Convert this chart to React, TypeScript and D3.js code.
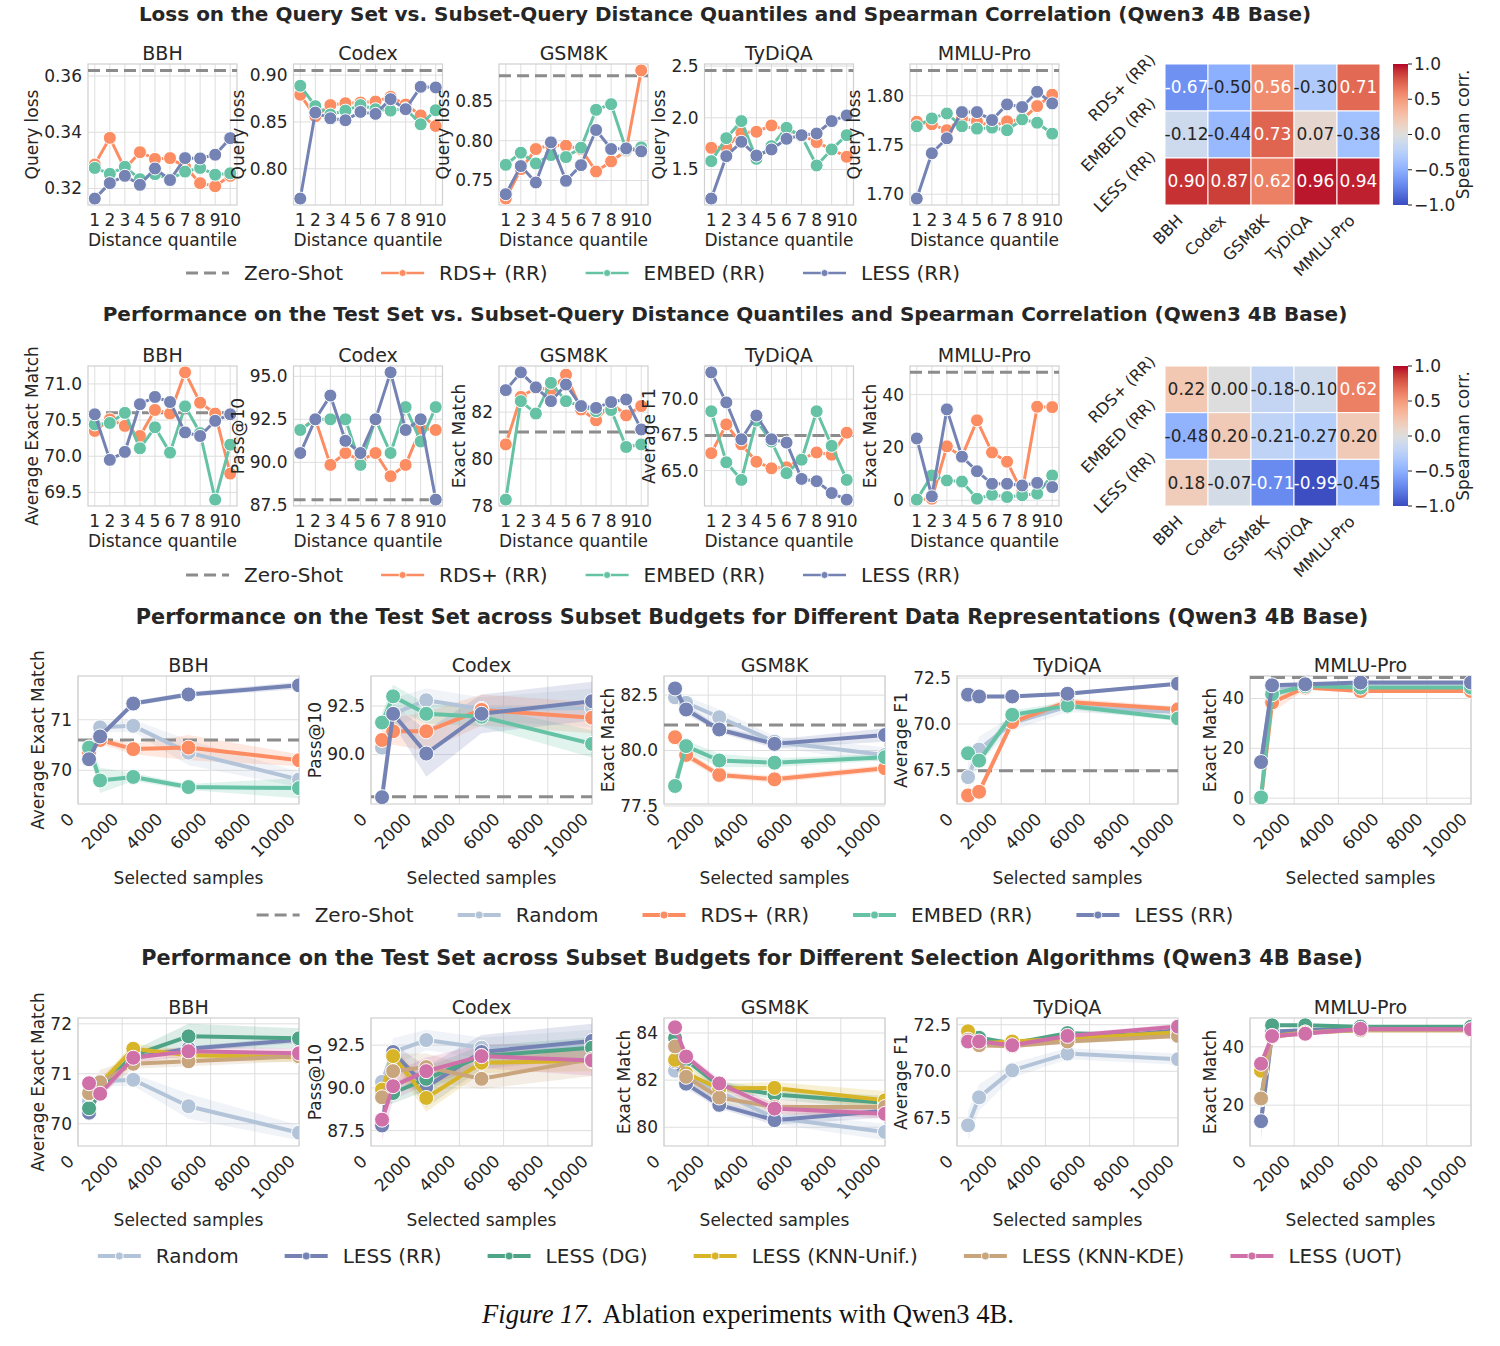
import * as d3 from 'd3';
import { useEffect, useRef } from 'react';

const benchmarks = ['BBH', 'Codex', 'GSM8K', 'TyDiQA', 'MMLU-Pro'];
const methods = ['RDS+ (RR)', 'EMBED (RR)', 'LESS (RR)'];
const quantiles = [1, 2, 3, 4, 5, 6, 7, 8, 9, 10];
const budgets = [500, 1000, 2500, 5000, 10000];
const budgetTicks = [0, 2000, 4000, 6000, 8000, 10000];

const metricLabels = ['Average Exact Match', 'Pass@10', 'Exact Match', 'Average F1', 'Exact Match'];

// ---- query loss vs distance quantile ----
const lossZeroShot = [0.362, 0.905, 0.8815, 2.458, 1.8257];
const lossRds = [
  [0.3285, 0.338, 0.327, 0.3329, 0.3305, 0.3308, 0.3277, 0.3219, 0.3208, 0.3245],
  [0.879, 0.856, 0.868, 0.87, 0.8707, 0.8718, 0.8768, 0.8686, 0.857, 0.8457],
  [0.7273, 0.7643, 0.7895, 0.7945, 0.7937, 0.7895, 0.7613, 0.774, 0.7874, 0.8882],
  [1.71, 1.716, 1.855, 1.865, 1.926, 1.881, 1.832, 1.765, 1.694, 1.623],
  [1.7736, 1.771, 1.765, 1.777, 1.774, 1.769, 1.774, 1.776, 1.7895, 1.801],
];
const lossEmbed = [
  [0.3273, 0.3252, 0.3277, 0.3233, 0.3251, 0.3233, 0.326, 0.3273, 0.3249, 0.3254],
  [0.8886, 0.8668, 0.8579, 0.8621, 0.8679, 0.8636, 0.8621, 0.8643, 0.8475, 0.8625],
  [0.7697, 0.7849, 0.7714, 0.7819, 0.7794, 0.7912, 0.8387, 0.8458, 0.7887, 0.7916],
  [1.581, 1.803, 1.968, 1.603, 1.726, 1.903, 1.823, 1.539, 1.694, 1.832],
  [1.769, 1.777, 1.782, 1.769, 1.7666, 1.7676, 1.765, 1.776, 1.7726, 1.7615],
];
const lossLess = [
  [0.3164, 0.3219, 0.3245, 0.3213, 0.3271, 0.323, 0.3308, 0.3307, 0.332, 0.3379],
  [0.7682, 0.86, 0.8539, 0.8518, 0.8607, 0.8586, 0.8743, 0.8636, 0.8875, 0.8868],
  [0.7328, 0.7681, 0.7475, 0.7979, 0.7496, 0.7693, 0.8134, 0.7895, 0.7903, 0.7866],
  [1.219, 1.629, 1.768, 1.635, 1.694, 1.797, 1.832, 1.848, 1.968, 2.023],
  [1.6956, 1.7416, 1.7568, 1.7834, 1.7834, 1.7753, 1.7912, 1.7885, 1.804, 1.7922],
];
const lossTickLabels = [
  ['0.32', '0.34', '0.36'],
  ['0.80', '0.85', '0.90'],
  ['0.75', '0.80', '0.85'],
  ['1.5', '2.0', '2.5'],
  ['1.70', '1.75', '1.80'],
];
const lossCorr = [
  [-0.67, -0.5, 0.56, -0.3, 0.71],
  [-0.12, -0.44, 0.73, 0.07, -0.38],
  [0.9, 0.87, 0.62, 0.96, 0.94],
];

// ---- test performance vs distance quantile ----
const testZeroShot = [70.6, 87.83, 81.15, 67.45, 48.4];
const testRds = [
  [70.35, 70.51, 70.42, 70.28, 70.64, 70.59, 71.16, 70.74, 70.59, 69.76],
  [91.92, 92.5, 89.85, 90.54, 90.1, 90.54, 89.19, 89.85, 91.96, 91.88],
  [80.62, 82.65, 83.04, 82.96, 83.6, 82.11, 81.65, 82.4, 81.86, 82.26],
  [66.22, 68.23, 66.84, 65.62, 65.16, 65.23, 65.81, 66.27, 66.11, 67.65],
  [0.25, 0.6, 20.4, 16.5, 30.25, 18.1, 14.6, 3, 35.4, 35.25],
];
const testEmbed = [
  [70.44, 70.46, 70.6, 70.11, 70.4, 70.05, 70.69, 70.32, 69.4, 70.16],
  [91.88, 92.5, 92.5, 92.5, 89.85, 92.5, 90.54, 93.21, 91.21, 93.21],
  [78.26, 82.47, 81.94, 83.25, 82.47, 82.26, 82.04, 82.09, 80.51, 80.62],
  [69.15, 65.58, 64.35, 68.5, 67.03, 64.82, 65.76, 69.15, 66.73, 64.35],
  [0.25, 9.4, 7.5, 7.1, 0.6, 2.1, 1.25, 1.9, 2.5, 9.4],
];
const testLess = [
  [70.58, 69.95, 70.06, 70.72, 70.82, 70.75, 70.33, 70.28, 70.49, 70.58],
  [90.54, 92.5, 93.88, 91.25, 90.54, 92.5, 95.23, 91.88, 92.5, 87.83],
  [82.94, 83.7, 83.06, 82.47, 83.18, 82.26, 82.18, 82.43, 82.54, 81.26],
  [71.87, 69.77, 67.19, 68.85, 67.19, 66.96, 64.42, 64.26, 63.43, 62.97],
  [23.4, 1.5, 34.4, 16.5, 11, 6.25, 6.25, 5.6, 6.6, 5],
];
const testTickLabels = [
  ['69.5', '70.0', '70.5', '71.0'],
  ['87.5', '90.0', '92.5', '95.0'],
  ['78', '80', '82'],
  ['65.0', '67.5', '70.0'],
  ['0', '20', '40'],
];
const testCorr = [
  [0.22, 0.0, -0.18, -0.1, 0.62],
  [-0.48, 0.2, -0.21, -0.27, 0.2],
  [0.18, -0.07, -0.71, -0.99, -0.45],
];

// ---- test performance vs subset budget (mean and CI half-width) ----
const budgetZeroShot = [70.6, 87.83, 81.15, 67.45, 48.4];
const budgetRandom = [
  [70.45, 70.85, 70.88, 70.35, 69.82],
  [90.35, 92.1, 92.8, 92.35, 92.4],
  [82.4, 82.15, 81.5, 80.4, 79.8],
  [67.1, 68.6, 70.05, 70.95, 70.65],
  [14.5, 44, 45.5, 46, 46],
];
const budgetRandomSpread = [
  [0.1, 0.1, 0.12, 0.25, 0.15],
  [0.3, 0.8, 0.6, 0.6, 1.0],
  [0.3, 0.3, 0.35, 0.25, 0.35],
  [0.8, 0.7, 0.4, 0.3, 0.3],
  [2, 2, 0.5, 0.5, 0.5],
];
const budgetRds = [
  [70.35, 70.6, 70.42, 70.45, 70.2],
  [90.75, 91.2, 91.2, 92.3, 91.9],
  [80.6, 79.8, 78.9, 78.7, 79.2],
  [66.1, 66.3, 70.1, 71.2, 70.8],
  [0.3, 38.4, 44.4, 43.0, 43.0],
];
const budgetRdsSpread = [
  [0.1, 0.08, 0.1, 0.25, 0.12],
  [0.6, 0.7, 1.0, 0.8, 0.8],
  [0.15, 0.2, 0.15, 0.15, 0.15],
  [0.15, 0.2, 0.2, 0.2, 0.15],
  [0.3, 4, 0.8, 0.8, 0.8],
];
const budgetEmbed = [
  [70.45, 69.8, 69.87, 69.67, 69.65],
  [91.65, 93.0, 92.1, 91.95, 90.55],
  [78.4, 80.2, 79.55, 79.45, 79.7],
  [68.4, 68.0, 70.5, 71.0, 70.3],
  [0.3, 41.7, 45.0, 44.4, 44.4],
];
const budgetEmbedSpread = [
  [0.1, 0.25, 0.08, 0.06, 0.2],
  [0.5, 0.6, 0.5, 0.5, 0.7],
  [0.55, 0.25, 0.3, 0.2, 0.15],
  [0.2, 0.3, 0.25, 0.2, 0.15],
  [0.3, 2, 0.5, 0.5, 0.5],
];
const budgetLess = [
  [70.22, 70.67, 71.32, 71.5, 71.68],
  [87.8, 92.1, 90.05, 92.1, 92.75],
  [82.8, 81.85, 80.95, 80.3, 80.7],
  [71.6, 71.5, 71.5, 71.65, 72.2],
  [14.5, 45.3, 45.7, 46.4, 46.4],
];
const budgetLessSpread = [
  [0.05, 0.05, 0.05, 0.05, 0.07],
  [0.05, 0.5, 1.2, 1.0, 1.0],
  [0.3, 0.2, 0.15, 0.2, 0.3],
  [0.1, 0.1, 0.1, 0.1, 0.1],
  [6.5, 0.5, 0.3, 0.3, 0.3],
];
const budgetTickLabels = [
  ['70', '71'],
  ['90.0', '92.5'],
  ['77.5', '80.0', '82.5'],
  ['67.5', '70.0', '72.5'],
  ['0', '20', '40'],
];

// ---- selection algorithm variants ----
const selectDg = [
  [70.31, 70.7, 71.37, 71.75, 71.71],
  [89.7, 89.7, 90.53, 91.86, 92.35],
  [83.79, 82.86, 81.76, 81.39, 81.04],
  [71.65, 71.8, 71.5, 72.05, 71.9],
  [22, 47.4, 47.4, 46.9, 46.9],
];
const selectDgSpread = [
  [0.1, 0.1, 0.1, 0.25, 0.2],
  [0.8, 0.6, 0.7, 0.6, 0.6],
  [0.2, 0.2, 0.2, 0.2, 0.3],
  [0.12, 0.12, 0.12, 0.12, 0.12],
  [2, 0.5, 0.5, 0.3, 0.3],
];
const selectUnif = [
  [70.6, 70.8, 71.5, 71.37, 71.33],
  [89.9, 91.86, 89.41, 91.47, 91.57],
  [82.86, 82.29, 81.64, 81.67, 81.14],
  [72.15, 71.5, 71.6, 71.75, 72.1],
  [31.8, 43.7, 44.9, 45.7, 45.7],
];
const selectUnifSpread = [
  [0.1, 0.1, 0.1, 0.1, 0.1],
  [0.6, 0.6, 0.8, 0.6, 0.6],
  [0.3, 0.3, 0.2, 0.25, 0.4],
  [0.12, 0.12, 0.12, 0.12, 0.12],
  [2, 1, 0.5, 0.3, 0.3],
];
const selectKde = [
  [70.61, 70.83, 71.2, 71.25, 71.35],
  [89.45, 90.98, 91.22, 90.53, 91.7],
  [83.43, 82.14, 81.26, 80.86, 80.86],
  [71.7, 71.4, 71.35, 71.6, 71.9],
  [22.3, 43.4, 44.9, 45.7, 45.7],
];
const selectKdeSpread = [
  [0.1, 0.25, 0.1, 0.1, 0.1],
  [0.5, 1.0, 0.8, 0.6, 1.0],
  [0.2, 0.2, 0.2, 0.3, 0.4],
  [0.12, 0.12, 0.12, 0.12, 0.12],
  [3, 1, 0.5, 0.3, 0.3],
];
const selectUot = [
  [70.81, 70.6, 71.32, 71.45, 71.41],
  [88.14, 90.1, 90.98, 91.86, 91.61],
  [84.24, 83.0, 81.86, 80.79, 80.57],
  [71.6, 71.6, 71.4, 71.9, 72.4],
  [34.2, 43.7, 44.5, 46.2, 46.0],
];
const selectUotSpread = [
  [0.1, 0.1, 0.1, 0.1, 0.1],
  [1.2, 0.8, 0.8, 0.7, 0.9],
  [0.15, 0.15, 0.2, 0.2, 0.2],
  [0.12, 0.12, 0.12, 0.12, 0.15],
  [2, 1, 0.5, 0.3, 0.3],
];
const selectTickLabels = [
  ['70', '71', '72'],
  ['87.5', '90.0', '92.5'],
  ['80', '82', '84'],
  ['67.5', '70.0', '72.5'],
  ['20', '40'],
];

const FONT = "'DejaVu Sans', sans-serif";
const INK = '#262626';
const GRID = '#dedede';
const SPINE = '#d0d0d0';
const TICK = 17;

const colors = {
  zero: '#8c8c8c',
  random: '#b3c4d9',
  rds: '#fc8d62',
  embed: '#66c2a5',
  less: '#7483b4',
  dg: '#4fa386',
  unif: '#d8b528',
  kde: '#c9a57d',
  uot: '#d070a9',
};

// matplotlib coolwarm, sampled
const coolwarmStops = [
  [59, 76, 192], [77, 104, 215], [98, 130, 234], [119, 154, 247], [141, 176, 254],
  [163, 194, 255], [184, 208, 249], [204, 217, 238], [221, 221, 221], [236, 211, 197],
  [245, 196, 173], [247, 177, 148], [244, 154, 123], [236, 127, 99], [222, 96, 77],
  [203, 62, 56], [180, 4, 38],
];
const coolwarm = d3
  .scaleLinear<string>()
  .domain(coolwarmStops.map((_, i) => -1 + (2 * i) / (coolwarmStops.length - 1)))
  .range(coolwarmStops.map(([r, g, b]) => `rgb(${r},${g},${b})`))
  .interpolate(d3.interpolateRgb)
  .clamp(true);

// seaborn picks dark or white annotation text by luminance
function annotColor(fill: string) {
  const c = d3.rgb(fill);
  const lin = (v: number) => {
    const s = v / 255;
    return s <= 0.03928 ? s / 12.92 : Math.pow((s + 0.055) / 1.055, 2.4);
  };
  const lum = 0.2126 * lin(c.r) + 0.7152 * lin(c.g) + 0.0722 * lin(c.b);
  return lum > 0.408 ? INK : '#ffffff';
}

function makeMeasure(svg: any) {
  const t = svg.append('text').attr('visibility', 'hidden').style('font-family', FONT);
  return (s: string, size: number, weight = 'normal') => {
    t.attr('font-size', size).attr('font-weight', weight).text(s);
    return (t.node() as SVGTextElement).getComputedTextLength();
  };
}

// 45deg label; 'top' puts the box's top-right corner at (ax, ay), 'center' its right-middle
function rotatedLabel(g: any, measure: any, text: string, ax: number, ay: number, size: number, mode: 'top' | 'center') {
  const L = measure(text, size);
  const bw = (L + size * 1.17) * Math.SQRT1_2;
  const cx = ax - bw / 2;
  const cy = mode === 'top' ? ay + bw / 2 : ay;
  g.append('text')
    .attr('transform', `translate(${cx},${cy}) rotate(-45)`)
    .attr('text-anchor', 'middle')
    .attr('dy', '0.35em')
    .attr('font-size', size)
    .attr('fill', INK)
    .text(text);
}

interface LineSeries {
  color: string;
  values: number[];
  spread?: number[];
}

interface PanelSpec {
  id: string;
  left: number;
  top: number;
  width: number;
  height: number;
  xDomain: [number, number];
  xs: number[];
  xGrid: number[];
  rotateX: boolean;
  yTickText: string[];
  title: string;
  xTitle: string;
  yTitle: string;
  series: LineSeries[];
  zeroShot?: number;
  zeroScales: boolean;
  lineWidth: number;
  radius: number;
  dash: string;
}

function drawPanel(root: any, measure: any, p: PanelSpec) {
  const g = root.append('g');
  const bottom = p.top + p.height;
  const x = d3.scaleLinear().domain(p.xDomain).range([p.left, p.left + p.width]);

  const span: number[] = [];
  p.series.forEach((s) =>
    s.values.forEach((v, i) => {
      const e = s.spread ? s.spread[i] : 0;
      span.push(v - e, v + e);
    })
  );
  if (p.zeroShot !== undefined && p.zeroScales) span.push(p.zeroShot);
  const lo = d3.min(span) as number;
  const hi = d3.max(span) as number;
  const m = (hi - lo) * 0.05;
  const y = d3.scaleLinear().domain([lo - m, hi + m]).range([bottom, p.top]);

  const clipId = `clip-${p.id}`;
  g.append('clipPath')
    .attr('id', clipId)
    .append('rect')
    .attr('x', p.left)
    .attr('y', p.top)
    .attr('width', p.width)
    .attr('height', p.height);

  // grid
  g.append('g')
    .selectAll('line')
    .data(p.xGrid)
    .join('line')
    .attr('x1', (d: number) => x(d))
    .attr('x2', (d: number) => x(d))
    .attr('y1', p.top)
    .attr('y2', bottom)
    .attr('stroke', GRID)
    .attr('stroke-width', 1);
  g.append('g')
    .selectAll('line')
    .data(p.yTickText.map(Number))
    .join('line')
    .attr('x1', p.left)
    .attr('x2', p.left + p.width)
    .attr('y1', (d: number) => y(d))
    .attr('y2', (d: number) => y(d))
    .attr('stroke', GRID)
    .attr('stroke-width', 1);

  g.append('rect')
    .attr('x', p.left)
    .attr('y', p.top)
    .attr('width', p.width)
    .attr('height', p.height)
    .attr('fill', 'none')
    .attr('stroke', SPINE)
    .attr('stroke-width', 1.2);

  const plot = g.append('g').attr('clip-path', `url(#${clipId})`);

  const pts = (s: LineSeries) =>
    p.xs.map((xv, i) => ({ x: xv, v: s.values[i], e: s.spread ? s.spread[i] : 0 }));

  // confidence bands underneath everything else
  p.series.forEach((s) => {
    if (!s.spread) return;
    const area = d3
      .area<{ x: number; v: number; e: number }>()
      .x((d) => x(d.x))
      .y0((d) => y(d.v - d.e))
      .y1((d) => y(d.v + d.e));
    plot.append('path').datum(pts(s)).attr('d', area).attr('fill', s.color).attr('fill-opacity', 0.2);
  });

  if (p.zeroShot !== undefined) {
    plot
      .append('line')
      .attr('x1', p.left)
      .attr('x2', p.left + p.width)
      .attr('y1', y(p.zeroShot))
      .attr('y2', y(p.zeroShot))
      .attr('stroke', colors.zero)
      .attr('stroke-width', 3)
      .attr('stroke-dasharray', p.dash);
  }

  p.series.forEach((s) => {
    const line = d3
      .line<{ x: number; v: number }>()
      .x((d) => x(d.x))
      .y((d) => y(d.v));
    plot
      .append('path')
      .datum(pts(s))
      .attr('d', line)
      .attr('fill', 'none')
      .attr('stroke', s.color)
      .attr('stroke-width', p.lineWidth)
      .attr('stroke-linejoin', 'round');
    plot
      .append('g')
      .selectAll('circle')
      .data(pts(s))
      .join('circle')
      .attr('cx', (d: any) => x(d.x))
      .attr('cy', (d: any) => y(d.v))
      .attr('r', p.radius)
      .attr('fill', s.color)
      .attr('stroke', '#ffffff')
      .attr('stroke-width', 1);
  });

  // y ticks + label
  g.append('g')
    .selectAll('text')
    .data(p.yTickText)
    .join('text')
    .attr('x', p.left - 6)
    .attr('y', (d: string) => y(+d))
    .attr('dy', '0.35em')
    .attr('text-anchor', 'end')
    .attr('font-size', TICK)
    .attr('fill', INK)
    .text((d: string) => d);
  const tw = d3.max(p.yTickText, (d) => measure(d, TICK) as number) as number;
  g.append('text')
    .attr('transform', `translate(${p.left - 6 - tw - 6},${p.top + p.height / 2}) rotate(-90)`)
    .attr('text-anchor', 'middle')
    .attr('font-size', 17)
    .attr('fill', INK)
    .text(p.yTitle);

  // x ticks + label
  if (p.rotateX) {
    p.xGrid.forEach((t) => rotatedLabel(g, measure, String(t), x(t), bottom + 5, TICK, 'top'));
  } else {
    g.append('g')
      .selectAll('text')
      .data(p.xGrid)
      .join('text')
      .attr('x', (d: number) => x(d))
      .attr('y', bottom + 21)
      .attr('text-anchor', 'middle')
      .attr('font-size', TICK)
      .attr('fill', INK)
      .text((d: number) => String(d));
  }
  g.append('text')
    .attr('x', p.left + p.width / 2)
    .attr('y', bottom + (p.rotateX ? 80 : 41))
    .attr('text-anchor', 'middle')
    .attr('font-size', 17)
    .attr('fill', INK)
    .text(p.xTitle);

  g.append('text')
    .attr('x', p.left + p.width / 2)
    .attr('y', p.top - 4)
    .attr('text-anchor', 'middle')
    .attr('font-size', 19)
    .attr('fill', INK)
    .text(p.title);
}

function drawHeatmap(root: any, measure: any, id: string, top: number, height: number, corr: number[][]) {
  const g = root.append('g');
  const left = 1165;
  const width = 215;
  const x = d3.scaleBand().domain(benchmarks).range([left, left + width]);
  const y = d3.scaleBand().domain(methods).range([top, top + height]);

  corr.forEach((row, r) =>
    row.forEach((v, c) => {
      const fill = coolwarm(v);
      const cx = x(benchmarks[c]) as number;
      const cy = y(methods[r]) as number;
      g.append('rect')
        .attr('x', cx)
        .attr('y', cy)
        .attr('width', x.bandwidth())
        .attr('height', y.bandwidth())
        .attr('fill', fill)
        .attr('stroke', '#ffffff')
        .attr('stroke-width', 1);
      g.append('text')
        .attr('x', cx + x.bandwidth() / 2)
        .attr('y', cy + y.bandwidth() / 2)
        .attr('dy', '0.35em')
        .attr('text-anchor', 'middle')
        .attr('font-size', 17)
        .attr('fill', annotColor(fill))
        .text(v.toFixed(2));
    })
  );

  methods.forEach((mth) =>
    rotatedLabel(g, measure, mth, left - 6, (y(mth) as number) + y.bandwidth() / 2, 16, 'center')
  );
  benchmarks.forEach((b) =>
    rotatedLabel(g, measure, b, (x(b) as number) + x.bandwidth() / 2, top + height + 6, 16, 'top')
  );

  // colour bar
  const barX = 1393;
  const barW = 15;
  const grad = g.append('linearGradient').attr('id', `cbar-${id}`).attr('x1', 0).attr('x2', 0).attr('y1', 1).attr('y2', 0);
  d3.range(0, 1.0001, 0.05).forEach((t) =>
    grad.append('stop').attr('offset', t).attr('stop-color', coolwarm(-1 + 2 * t))
  );
  g.append('rect').attr('x', barX).attr('y', top).attr('width', barW).attr('height', height).attr('fill', `url(#cbar-${id})`);
  const cb = d3.scaleLinear().domain([-1, 1]).range([top + height, top]);
  [-1, -0.5, 0, 0.5, 1].forEach((t) => {
    g.append('line')
      .attr('x1', barX + barW)
      .attr('x2', barX + barW + 4)
      .attr('y1', cb(t))
      .attr('y2', cb(t))
      .attr('stroke', INK)
      .attr('stroke-width', 1);
    g.append('text')
      .attr('x', barX + barW + 6)
      .attr('y', cb(t))
      .attr('dy', '0.35em')
      .attr('font-size', TICK)
      .attr('fill', INK)
      .text(t.toFixed(1).replace('-', '\u2212'));
  });
  g.append('text')
    .attr('transform', `translate(${1469},${top + height / 2}) rotate(-90)`)
    .attr('text-anchor', 'middle')
    .attr('font-size', 17)
    .attr('fill', INK)
    .text('Spearman corr.');
}

interface LegendItem {
  label: string;
  color: string;
  dashed?: boolean;
}

function drawLegend(root: any, measure: any, cx: number, cy: number, items: LegendItem[], lw: number, r: number, spacing: number) {
  const g = root.append('g');
  const handle = 43;
  const pad = 15;
  const widths = items.map((it) => handle + pad + measure(it.label, 20));
  const total = d3.sum(widths) + spacing * (items.length - 1);
  let x0 = cx - total / 2;
  items.forEach((it, i) => {
    g.append('line')
      .attr('x1', x0)
      .attr('x2', x0 + handle)
      .attr('y1', cy)
      .attr('y2', cy)
      .attr('stroke', it.color)
      .attr('stroke-width', it.dashed ? 3 : lw)
      .attr('stroke-dasharray', it.dashed ? '12,6' : null);
    if (!it.dashed) {
      g.append('circle').attr('cx', x0 + handle / 2).attr('cy', cy).attr('r', r).attr('fill', it.color).attr('stroke', '#fff').attr('stroke-width', 0.8);
    }
    g.append('text')
      .attr('x', x0 + handle + pad)
      .attr('y', cy)
      .attr('dy', '0.35em')
      .attr('font-size', 20)
      .attr('fill', INK)
      .text(it.label);
    x0 += widths[i] + spacing;
  });
}

export default function App() {
  const svgRef = useRef<SVGSVGElement>(null);

  useEffect(() => {
    if (!svgRef.current) return;
    const svg = d3.select(svgRef.current);
    svg.selectAll('*').remove();
    svg.append('rect').attr('width', 1500).attr('height', 1346).attr('fill', '#ffffff');
    const measure = makeMeasure(svg);
    const root = svg.append('g').style('font-family', FONT);

    const rowTitle = (text: string, cx: number, y: number, size: number) =>
      root
        .append('text')
        .attr('x', cx)
        .attr('y', y)
        .attr('text-anchor', 'middle')
        .attr('font-size', size)
        .attr('font-weight', 'bold')
        .attr('fill', INK)
        .text(text);

    rowTitle('Loss on the Query Set vs. Subset-Query Distance Quantiles and Spearman Correlation (Qwen3 4B Base)', 725, 21, 20);
    rowTitle('Performance on the Test Set vs. Subset-Query Distance Quantiles and Spearman Correlation (Qwen3 4B Base)', 725, 321, 20);
    rowTitle('Performance on the Test Set across Subset Budgets for Different Data Representations (Qwen3 4B Base)', 752, 624, 20.8);
    rowTitle('Performance on the Test Set across Subset Budgets for Different Selection Algorithms (Qwen3 4B Base)', 752, 965, 20.8);

    const qPad = (quantiles[quantiles.length - 1] - quantiles[0]) * 0.05;
    const qDomain: [number, number] = [quantiles[0] - qPad, quantiles[quantiles.length - 1] + qPad];

    benchmarks.forEach((name, i) => {
      const common = {
        left: 88 + i * 205.5,
        width: 149,
        xDomain: qDomain,
        xs: quantiles,
        xGrid: quantiles,
        rotateX: false,
        title: name,
        xTitle: 'Distance quantile',
        zeroScales: true,
        lineWidth: 3,
        radius: 6.5,
        dash: '12,6',
      };
      drawPanel(root, measure, {
        ...common,
        id: `loss-${i}`,
        top: 64,
        height: 141,
        yTickText: lossTickLabels[i],
        yTitle: 'Query loss',
        zeroShot: lossZeroShot[i],
        series: [
          { color: colors.rds, values: lossRds[i] },
          { color: colors.embed, values: lossEmbed[i] },
          { color: colors.less, values: lossLess[i] },
        ],
      });
      drawPanel(root, measure, {
        ...common,
        id: `test-${i}`,
        top: 366,
        height: 140,
        yTickText: testTickLabels[i],
        yTitle: metricLabels[i],
        zeroShot: testZeroShot[i],
        series: [
          { color: colors.rds, values: testRds[i] },
          { color: colors.embed, values: testEmbed[i] },
          { color: colors.less, values: testLess[i] },
        ],
      });
    });

    drawHeatmap(root, measure, 'loss', 64, 141, lossCorr);
    drawHeatmap(root, measure, 'test', 366, 140, testCorr);

    benchmarks.forEach((name, i) => {
      const common = {
        left: 78 + i * 293,
        width: 221,
        height: 128,
        xDomain: [budgetTicks[0], budgetTicks[budgetTicks.length - 1]] as [number, number],
        xs: budgets,
        xGrid: budgetTicks,
        rotateX: true,
        title: name,
        xTitle: 'Selected samples',
        yTitle: metricLabels[i],
        zeroScales: false,
        lineWidth: 4,
        radius: 7.5,
        dash: '14,7',
      };
      drawPanel(root, measure, {
        ...common,
        id: `budget-${i}`,
        top: 676,
        yTickText: budgetTickLabels[i],
        zeroShot: budgetZeroShot[i],
        series: [
          { color: colors.random, values: budgetRandom[i], spread: budgetRandomSpread[i] },
          { color: colors.rds, values: budgetRds[i], spread: budgetRdsSpread[i] },
          { color: colors.embed, values: budgetEmbed[i], spread: budgetEmbedSpread[i] },
          { color: colors.less, values: budgetLess[i], spread: budgetLessSpread[i] },
        ],
      });
      drawPanel(root, measure, {
        ...common,
        id: `select-${i}`,
        top: 1018,
        yTickText: selectTickLabels[i],
        series: [
          { color: colors.random, values: budgetRandom[i], spread: budgetRandomSpread[i] },
          { color: colors.less, values: budgetLess[i], spread: budgetLessSpread[i] },
          { color: colors.dg, values: selectDg[i], spread: selectDgSpread[i] },
          { color: colors.unif, values: selectUnif[i], spread: selectUnifSpread[i] },
          { color: colors.kde, values: selectKde[i], spread: selectKdeSpread[i] },
          { color: colors.uot, values: selectUot[i], spread: selectUotSpread[i] },
        ],
      });
    });

    const quantileLegend: LegendItem[] = [
      { label: 'Zero-Shot', color: colors.zero, dashed: true },
      { label: 'RDS+ (RR)', color: colors.rds },
      { label: 'EMBED (RR)', color: colors.embed },
      { label: 'LESS (RR)', color: colors.less },
    ];
    drawLegend(root, measure, 573, 273, quantileLegend, 2.5, 3.5, 38);
    drawLegend(root, measure, 573, 575, quantileLegend, 2.5, 3.5, 38);
    drawLegend(
      root,
      measure,
      745,
      915,
      [
        { label: 'Zero-Shot', color: colors.zero, dashed: true },
        { label: 'Random', color: colors.random },
        { label: 'RDS+ (RR)', color: colors.rds },
        { label: 'EMBED (RR)', color: colors.embed },
        { label: 'LESS (RR)', color: colors.less },
      ],
      4,
      4,
      44
    );
    drawLegend(
      root,
      measure,
      750,
      1256,
      [
        { label: 'Random', color: colors.random },
        { label: 'LESS (RR)', color: colors.less },
        { label: 'LESS (DG)', color: colors.dg },
        { label: 'LESS (KNN-Unif.)', color: colors.unif },
        { label: 'LESS (KNN-KDE)', color: colors.kde },
        { label: 'LESS (UOT)', color: colors.uot },
      ],
      4,
      4,
      46
    );

    const caption = root
      .append('text')
      .attr('x', 748)
      .attr('y', 1323)
      .attr('text-anchor', 'middle')
      .attr('font-size', 26.6)
      .attr('fill', '#111')
      .style('font-family', "'Liberation Serif', serif");
    caption.append('tspan').attr('font-style', 'italic').text('Figure 17.');
    caption.append('tspan').attr('dx', 4).text(' Ablation experiments with Qwen3 4B.');
  }, []);

  return (
    <svg
      ref={svgRef}
      width={1500}
      height={1346}
      style={{ position: 'absolute', left: 0, top: 0 }}
    />
  );
}
